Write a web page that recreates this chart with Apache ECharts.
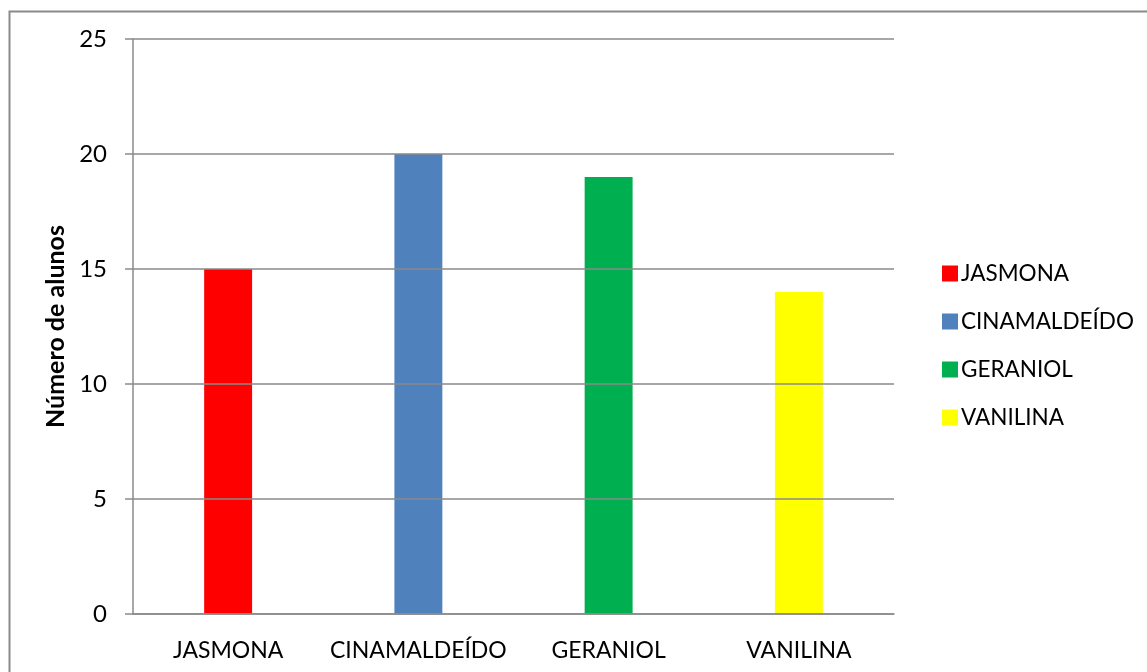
<!DOCTYPE html>
<html>
<head>
<meta charset="utf-8">
<script src="https://cdn.jsdelivr.net/npm/echarts@6/dist/echarts.min.js"></script>
<style>
  html, body { margin: 0; padding: 0; background: #ffffff; }
  #chart { width: 1147px; height: 672px; }
</style>
</head>
<body>
<div id="chart"></div>
<script>
// Aromas and number of students who picked each one
const categories = ['JASMONA', 'CINAMALDEÍDO', 'GERANIOL', 'VANILINA'];
const values = [15, 20, 19, 14];
const colors = ['#FF0000', '#4F81BD', '#00B050', '#FFFF00'];
const yTicks = [0, 5, 10, 15, 20, 25];

const FONT = 'Lato';
const LINE = '#8a8a8a';

// one series per aroma so each gets its own legend entry; stacking keeps them centred
const series = categories.map((name, i) => ({
  name: name,
  type: 'bar',
  stack: 'all',
  barWidth: '25.2%',
  itemStyle: { color: colors[i] },
  data: categories.map((c, j) => (j === i ? values[i] : null))
}));

const chart = echarts.init(document.getElementById('chart'), null, { renderer: 'canvas' });
chart.setOption({
  animation: false,
  backgroundColor: '#ffffff',
  textStyle: { fontFamily: FONT },
  graphic: [{
    type: 'rect',
    left: 7, top: 9,
    shape: { width: 1200, height: 700 },
    style: { fill: 'none', stroke: LINE, lineWidth: 2 },
    silent: true
  }],
  grid: { left: 133, right: 253, top: 39, bottom: 58, containLabel: false },
  legend: {
    orient: 'vertical',
    left: 937,
    top: 257,
    itemWidth: 16,
    itemHeight: 16,
    itemGap: 25,
    icon: 'rect',
    textStyle: { fontFamily: FONT, fontSize: 22.5, color: '#000', padding: [0, 0, 0, -2] },
    data: categories
  },
  xAxis: {
    type: 'category',
    data: categories,
    axisLine: { show: true, lineStyle: { color: LINE, width: 1.5 } },
    axisTick: { show: false },
    axisLabel: { color: '#000', fontFamily: FONT, fontSize: 23, margin: 25, interval: 0 },
    z: 10
  },
  yAxis: {
    type: 'value',
    min: yTicks[0],
    max: yTicks[yTicks.length - 1],
    interval: 5,
    name: 'Número de alunos',
    nameLocation: 'middle',
    nameGap: 62,
    nameRotate: 90,
    nameTextStyle: { fontFamily: FONT, fontSize: 25, fontWeight: 'bold', color: '#000' },
    axisLine: { show: true, lineStyle: { color: LINE, width: 1.5 } },
    axisTick: { show: true, length: 8, lineStyle: { color: LINE, width: 1.5 } },
    axisLabel: { color: '#000', fontFamily: FONT, fontSize: 24, margin: 26 },
    splitLine: { show: true, lineStyle: { color: LINE, width: 1.5 } },
    z: 10
  },
  series: series
});
</script>
</body>
</html>
